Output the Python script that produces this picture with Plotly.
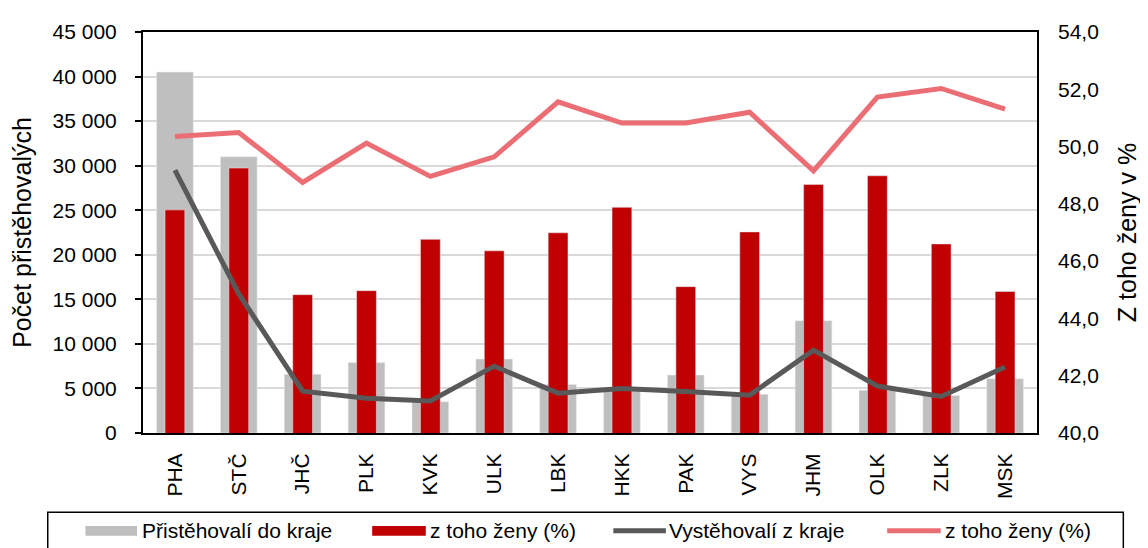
import plotly.graph_objects as go

regions = ["PHA", "STČ", "JHČ", "PLK", "KVK", "ULK", "LBK", "HKK", "PAK", "VYS", "JHM", "OLK", "ZLK", "MSK"]
immigrants = [40500, 31000, 6600, 7900, 3500, 8300, 5450, 5000, 6500, 4360, 12600, 4800, 4200, 6100]
immigrants_women_pct = [47.79, 49.25, 44.83, 44.97, 46.76, 46.36, 46.99, 47.88, 45.11, 47.02, 48.68, 48.98, 46.60, 44.94]
emigrants = [29500, 15600, 4700, 3900, 3600, 7500, 4470, 5000, 4650, 4250, 9300, 5270, 4100, 7400]
emigrants_women_pct = [50.35, 50.49, 48.75, 50.12, 48.96, 49.64, 51.56, 50.82, 50.82, 51.20, 49.15, 51.73, 52.03, 51.31]

left_ticks = [0, 5000, 10000, 15000, 20000, 25000, 30000, 35000, 40000, 45000]
right_ticks = [40, 42, 44, 46, 48, 50, 52, 54]

legend_labels = ["Přistěhovalí do kraje", "z toho ženy (%)", "Vystěhovalí z kraje", "z toho ženy (%)"]

C_GRAY = "#BFBFBF"
C_RED = "#C00000"
C_DARK = "#595959"
C_PINK = "#EC6E75"
FONT = "Liberation Sans, Arial, sans-serif"
FS = 21

# page body has an 8px margin; compensate so the figure lands where the reference is
OFF = 8
W, H = 1148 - OFF, 548 - OFF
L, R, T, B = 143 - OFF, 1044 - OFF, 23 - OFF, 433 - OFF

fig = go.Figure()
fig.add_trace(go.Bar(x=regions, y=immigrants, name=legend_labels[0], marker_color=C_GRAY,
                     width=0.575, yaxis="y", showlegend=False))
fig.add_trace(go.Bar(x=regions, y=immigrants_women_pct, name=legend_labels[1], marker_color=C_RED,
                     width=0.31, yaxis="y2", showlegend=False))
fig.add_trace(go.Scatter(x=regions, y=emigrants_women_pct, name=legend_labels[3], mode="lines",
                         line=dict(color=C_PINK, width=5), yaxis="y2", showlegend=False))
fig.add_trace(go.Scatter(x=regions, y=emigrants, name=legend_labels[2], mode="lines",
                         line=dict(color=C_DARK, width=5), yaxis="y3", showlegend=False))

fig.update_layout(
    width=W, height=H,
    margin=dict(l=L, r=W - R, t=T, b=H - B, pad=0),
    paper_bgcolor="white", plot_bgcolor="white",
    barmode="overlay",
    separators=", ",
    font=dict(family=FONT, size=FS, color="black"),
    xaxis=dict(showline=True, linecolor="black", linewidth=2, mirror=True,
               tickangle=-90, ticks="", ticklabelstandoff=10, showgrid=False),
    yaxis=dict(range=[0, 45000], tickvals=left_ticks, tickformat=",d",
               showline=True, linecolor="black", linewidth=2, mirror=True,
               ticks="outside", ticklen=6, tickwidth=2, tickcolor="black",
               showgrid=True, gridcolor="#D9D9D9", gridwidth=1.5, zeroline=False,
               ticklabelstandoff=14,
               title=dict(text="Počet přistěhovalých", standoff=14)),
    yaxis2=dict(range=[40, 54], tickvals=right_ticks, tickformat=".1f", overlaying="y", side="right",
                showgrid=False, zeroline=False, showline=False, ticks="", ticklabelstandoff=20,
                title=dict(text="Z toho ženy v %", standoff=20)),
    yaxis3=dict(range=[0, 45000], overlaying="y", visible=False, showgrid=False, zeroline=False),
)


def px(xp):
    return (xp - OFF - L) / (R - L)


def py(yp):
    return (B - (yp - OFF)) / (B - T)


shapes = []
annotations = []
# legend frame
shapes.append(dict(type="rect", xref="paper", yref="paper", x0=px(47), x1=px(1131), y0=py(570), y1=py(514),
                   line=dict(color="black", width=1.5), fillcolor="rgba(0,0,0,0)", layer="above"))
row_y = 533
items = [
    ("rect", C_GRAY, 85, 137, 140, legend_labels[0]),
    ("rect", C_RED, 374, 428, 430, legend_labels[1]),
    ("line", C_DARK, 617, 670, 671, legend_labels[2]),
    ("line", C_PINK, 893, 947, 949, legend_labels[3]),
]
for kind, col, a, b, tx, label in items:
    if kind == "rect":
        shapes.append(dict(type="rect", xref="paper", yref="paper", x0=px(a), x1=px(b),
                           y0=py(row_y + 5), y1=py(row_y - 5), line=dict(width=0), fillcolor=col, layer="above"))
    else:
        shapes.append(dict(type="line", xref="paper", yref="paper", x0=px(a), x1=px(b),
                           y0=py(row_y), y1=py(row_y), line=dict(color=col, width=5), layer="above"))
    annotations.append(dict(text=label, xref="paper", yref="paper", x=px(tx), y=py(row_y),
                            xanchor="left", yanchor="middle", showarrow=False,
                            font=dict(family=FONT, size=FS, color="black")))

fig.update_layout(shapes=shapes, annotations=annotations)
fig.write_html("out.html")
